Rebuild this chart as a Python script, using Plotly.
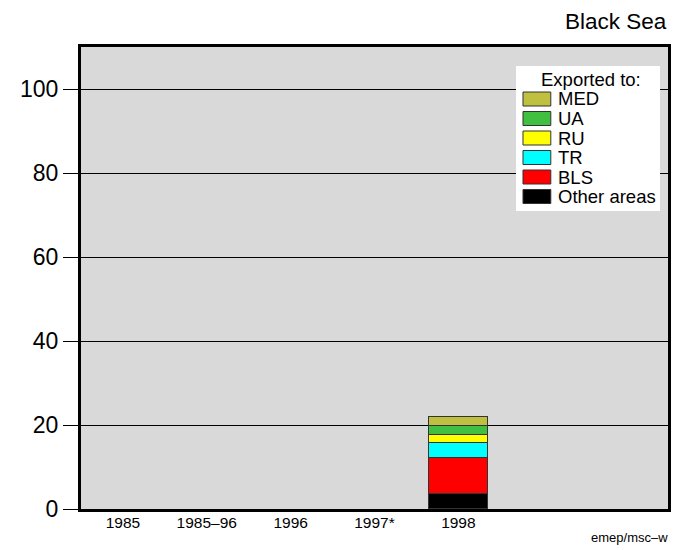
import plotly.graph_objects as go

# ---- data ----
years = ["1985", "1985\u201396", "1996", "1997*", "1998"]
other_areas = [None, None, None, None, 3.5]
bls = [None, None, None, None, 8.6]
tr = [None, None, None, None, 3.5]
ru = [None, None, None, None, 2.0]
ua = [None, None, None, None, 2.1]
med = [None, None, None, None, 2.1]

series_names = ["Other areas", "BLS", "TR", "RU", "UA", "MED"]
series_values = [other_areas, bls, tr, ru, ua, med]
series_colors = ["#000000", "#ff0000", "#00ffff", "#ffff00", "#40bf40", "#bfbf40"]

y_ticks = [0, 20, 40, 60, 80, 100]

# ---- layout geometry (page body has an 8px default margin) ----
OFF = 8
W, H = 687 - OFF, 550 - OFF
L, T = 77 - OFF, 47 - OFF
R = W - (668 - OFF)
B = H - (509 - OFF)
pw, ph = W - L - R, H - T - B


def px(x):
    return (x - OFF - L) / pw


def py(y):
    return (H - B - (y - OFF)) / ph


FONT = "Liberation Sans, Arial, Helvetica, sans-serif"

x_pos = list(range(len(years)))

fig = go.Figure()
for name, vals, col in zip(series_names, series_values, series_colors):
    fig.add_trace(go.Bar(
        x=x_pos, y=vals, name=name, width=0.71,
        marker=dict(color=col, line=dict(color="#333333", width=1)),
        showlegend=False,
    ))

shapes = []
annotations = []

# legend box
shapes.append(dict(type="rect", xref="paper", yref="paper",
                   x0=px(515), x1=px(660), y0=py(66), y1=py(211),
                   fillcolor="white", line=dict(width=0), layer="above"))
annotations.append(dict(xref="paper", yref="paper", x=px(590), y=py(79),
                        text="Exported to:", showarrow=False,
                        xanchor="center", yanchor="middle",
                        font=dict(size=18.5, color="black", family=FONT)))
legend_order = list(zip(series_names, series_colors))[::-1]
for i, (name, col) in enumerate(legend_order):
    top = 92 + i * 19.5
    shapes.append(dict(type="rect", xref="paper", yref="paper",
                       x0=px(522), x1=px(550), y0=py(top), y1=py(top + 14),
                       fillcolor=col, line=dict(color="#333333", width=1),
                       layer="above"))
    annotations.append(dict(xref="paper", yref="paper", x=px(555), y=py(top + 7),
                            text=name, showarrow=False,
                            xanchor="left", yanchor="middle",
                            font=dict(size=18.5, color="black", family=FONT)))

annotations.append(dict(xref="paper", yref="paper", x=px(669), y=py(21),
                        text="Black Sea", showarrow=False,
                        xanchor="right", yanchor="middle",
                        font=dict(size=22.5, color="black", family=FONT)))
annotations.append(dict(xref="paper", yref="paper", x=px(670), y=py(537),
                        text="emep/msc\u2013w", showarrow=False,
                        xanchor="right", yanchor="middle",
                        font=dict(size=13, color="black", family=FONT)))

fig.update_layout(
    width=W, height=H,
    margin=dict(l=L, r=R, t=T, b=B, pad=0),
    barmode="stack",
    bargap=0,
    paper_bgcolor="white",
    plot_bgcolor="#d9d9d9",
    font=dict(family=FONT, color="black"),
    shapes=shapes,
    annotations=annotations,
    showlegend=False,
    xaxis=dict(
        range=[-0.5, 6.5], tickmode="array", tickvals=x_pos, ticktext=years,
        showgrid=False, zeroline=False,
        showline=True, linecolor="black", linewidth=3, mirror=True,
        ticks="", ticklabelstandoff=-3,
        tickfont=dict(size=15.5, family=FONT, color="black"),
    ),
    yaxis=dict(
        range=[0, 110], tickmode="array", tickvals=y_ticks,
        showgrid=True, gridcolor="black", gridwidth=1, zeroline=False,
        showline=True, linecolor="black", linewidth=3, mirror=True,
        ticks="outside", ticklen=15, tickcolor="black", tickwidth=1,
        tickfont=dict(size=23, family=FONT, color="black"),
    ),
)

fig.write_html("out.html")
